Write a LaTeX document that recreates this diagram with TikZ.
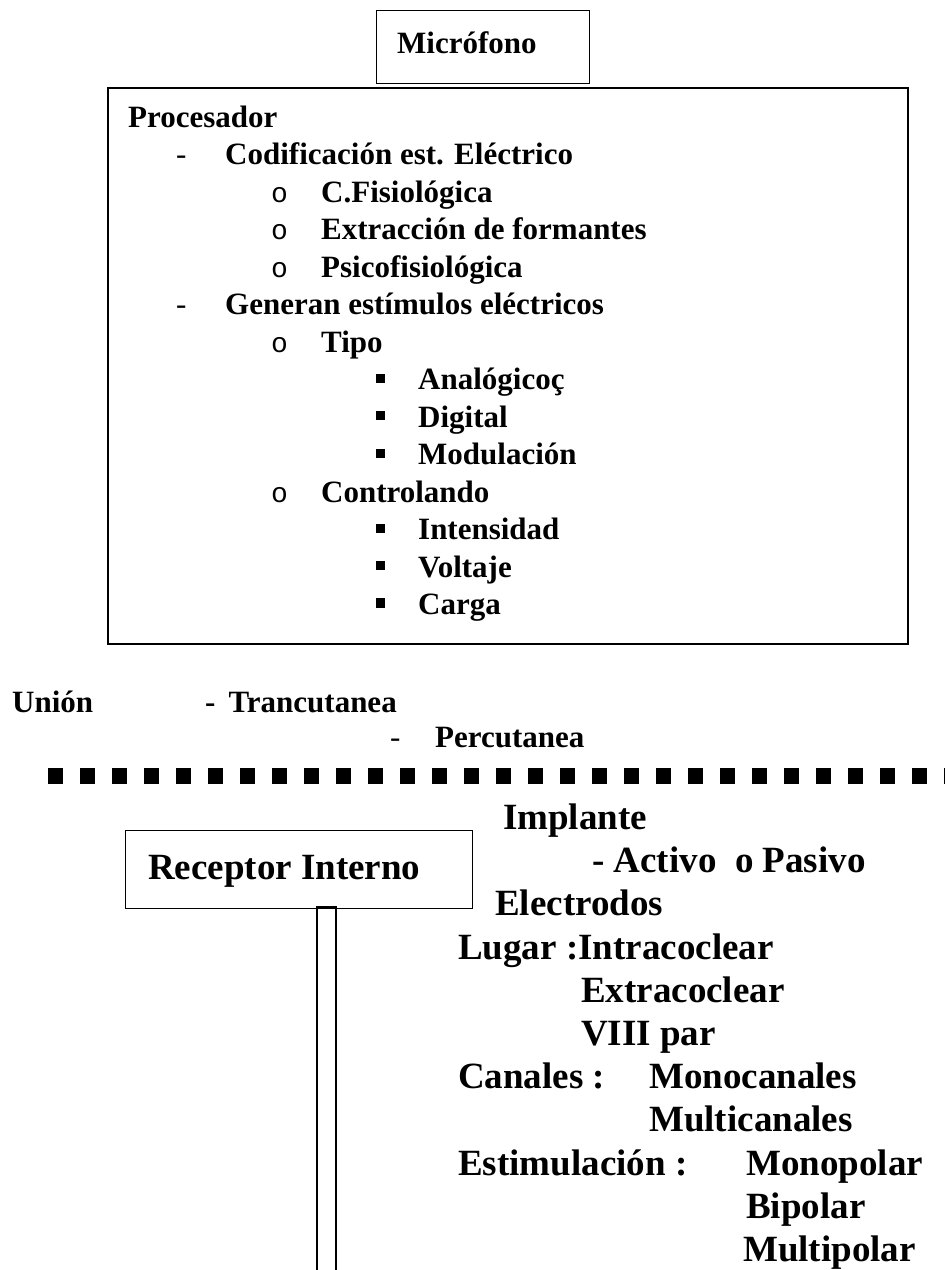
\documentclass[tikz,border=0pt]{standalone}
\usepackage{fontspec}
\setmainfont{Liberation Serif}
\newfontfamily\bulletfont{Liberation Mono}

\begin{document}
\begin{tikzpicture}[x=1pt, y=-1pt,
  frame/.style={draw, line width=1.2pt, inner sep=0pt, anchor=north west},
  txt/.style={anchor=base west, inner sep=0pt, font=\fontsize{31}{36}\selectfont\bfseries},
  bigtxt/.style={anchor=base west, inner sep=0pt, font=\fontsize{37}{42}\selectfont\bfseries},
  hyph/.style={anchor=base west, inner sep=0pt, font=\fontsize{31}{36}\selectfont},
  circ/.style={anchor=base west, inner sep=0pt, font=\fontsize{28}{32}\selectfont\bulletfont},
  sq/.style={anchor=base west, inner sep=0pt}
]
\useasboundingbox (0,0) rectangle (945,1270);

% microfono
\node[frame, minimum width=213pt, minimum height=73pt] (mic) at (376,10) {};
\node[txt] (micl) at (397,53) {Micrófono};

% procesador
\node[frame, line width=1.8pt, minimum width=800pt, minimum height=556pt] (proc) at (107,87) {};
\node[txt] (p0) at (128,127) {Procesador};
\node[hyph] (d1) at (176,164.5) {-};
\node[txt] (p1) at (225,164.5) {Codificación est. Eléctrico};
\node[circ] (c1) at (271,202) {o};
\node[txt] (p2) at (321,202) {C.Fisiológica};
\node[circ] (c2) at (271,239.5) {o};
\node[txt] (p3) at (321,239.5) {Extracción de formantes};
\node[circ] (c3) at (271,277) {o};
\node[txt] (p4) at (321,277) {Psicofisiológica};
\node[hyph] (d2) at (176,314.5) {-};
\node[txt] (p5) at (225,314.5) {Generan estímulos eléctricos};
\node[circ] (c4) at (271,352) {o};
\node[txt] (p6) at (321,352) {Tipo};
\node[sq] (s1) at (376,389.5) {\rule[7pt]{9pt}{9pt}};
\node[txt] (p7) at (418,389.5) {Analógicoç};
\node[sq] (s2) at (376,427) {\rule[7pt]{9pt}{9pt}};
\node[txt] (p8) at (418,427) {Digital};
\node[sq] (s3) at (376,464.5) {\rule[7pt]{9pt}{9pt}};
\node[txt] (p9) at (418,464.5) {Modulación};
\node[circ] (c5) at (271,502) {o};
\node[txt] (p10) at (321,502) {Controlando};
\node[sq] (s4) at (376,539.5) {\rule[7pt]{9pt}{9pt}};
\node[txt] (p11) at (418,539.5) {Intensidad};
\node[sq] (s5) at (376,577) {\rule[7pt]{9pt}{9pt}};
\node[txt] (p12) at (418,577) {Voltaje};
\node[sq] (s6) at (376,614.5) {\rule[7pt]{9pt}{10pt}};
\node[txt] (p13) at (418,614.5) {Carga};

% union
\node[txt] (union) at (12,712) {Unión};
\node[txt] (trans) at (205,712) {-\hspace{13pt}Trancutanea};
\node[hyph] (d3) at (390,747) {-};
\node[txt] (perc) at (435,747) {Percutanea};

% piel
\draw[line width=16pt, dash pattern=on 15pt off 17pt] (48,776) -- (960,776);

% receptor interno
\node[frame, minimum width=347pt, minimum height=78pt] (recep) at (125,830) {};
\node[bigtxt] (recl) at (148,879) {Receptor Interno};
\coordinate (cable) at (317,907);
\draw[line width=1.2pt] (cable) rectangle (336,1280);

% implante
\node[bigtxt] (impl) at (503,829) {Implante};
\node[bigtxt] (act) at (592,872) {- Activo\ \ o Pasivo};
\node[bigtxt] (elec) at (495,915) {Electrodos};
\node[bigtxt] (lugar) at (458,959) {Lugar :Intracoclear};
\node[bigtxt] (extra) at (581,1002) {Extracoclear};
\node[bigtxt] (viii) at (581,1045) {VIII par};
\node[bigtxt] (can) at (458,1088) {Canales :};
\node[bigtxt] (mono) at (649,1088) {Monocanales};
\node[bigtxt] (multi) at (649,1131) {Multicanales};
\node[bigtxt] (estim) at (458,1175) {Estimulación :};
\node[bigtxt] (monop) at (746,1175) {Monopolar};
\node[bigtxt] (bip) at (746,1218) {Bipolar};
\node[bigtxt] (multip) at (743,1261) {Multipolar};
\end{tikzpicture}
\end{document}
